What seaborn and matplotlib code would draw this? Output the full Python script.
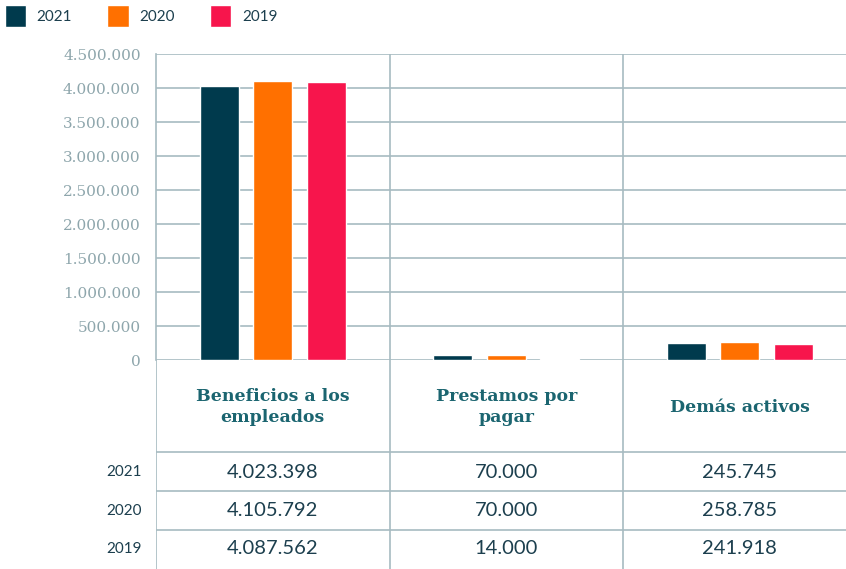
import matplotlib
matplotlib.use("Agg")
import matplotlib.pyplot as plt
import seaborn as sns
import pandas as pd
from matplotlib.patches import Patch

# data
categorias = ["Beneficios a los\nempleados", "Prestamos por\npagar", "Demás activos"]
anios = ["2021", "2020", "2019"]
valores_2021 = [4023398, 70000, 245745]
valores_2020 = [4105792, 70000, 258785]
valores_2019 = [4087562, 14000, 241918]
y_ticks = [0, 500000, 1000000, 1500000, 2000000, 2500000, 3000000, 3500000, 4000000, 4500000]

colores = {"2021": "#003a4d", "2020": "#ff7000", "2019": "#f7154c"}
linea = "#a7bbc1"
oscuro = "#1c3f4e"

series = {"2021": valores_2021, "2020": valores_2020, "2019": valores_2019}
rows = []
for a in anios:
    for c, v in zip(categorias, series[a]):
        rows.append({"categoria": c, "anio": a, "valor": v})
df = pd.DataFrame(rows)

def fmt(v):
    return f"{v:,}".replace(",", ".")

sns.set_style("white")
fig = plt.figure(figsize=(8.46, 5.69), dpi=100)
W, H = 846, 569
left = 156 / W
top_px, zero_px = 54, 360
x_max = 2.455
ax = fig.add_axes([left, 1 - zero_px / H, 1 - left, (zero_px - top_px) / H])

sns.barplot(data=df, x="categoria", y="valor", hue="anio", hue_order=anios,
            palette=colores, width=0.686, gap=0.27, saturation=1,
            legend=False, ax=ax)
ax.set_xlim(-0.5, x_max)
ax.set_ylim(0, 4500000)
ax.set_yticks(y_ticks)
ax.set_yticklabels([fmt(t) for t in y_ticks], family="DejaVu Serif",
                   fontsize=11, color="#8ea6ac")
ax.tick_params(axis="y", length=0, pad=11)
ax.set_xticks([])
ax.set_xlabel("")
ax.set_ylabel("")
for t in y_ticks:
    ax.axhline(t, color=linea, lw=1.2, zorder=0)
for s in ["top", "right", "bottom"]:
    ax.spines[s].set_visible(False)
ax.spines["left"].set_color(linea)
ax.spines["left"].set_linewidth(1.2)
for xv in [0.5, 1.5]:
    ax.axvline(xv, color=linea, lw=1.2, zorder=0)

# table below
tab = fig.add_axes([left, 0, 1 - left, (H - zero_px) / H])
tab.set_xlim(-0.5, x_max)
tab.set_ylim(H, zero_px)
tab.axis("off")
tab.axvline(-0.5, color=linea, lw=1.2)
for xv in [0.5, 1.5]:
    tab.axvline(xv, color=linea, lw=1.2)
for yv in [452, 491, 530]:
    tab.axhline(yv, color=linea, lw=1.2)

for i, c in enumerate(categorias):
    tab.text(i, 407, c, ha="center", va="center", family="DejaVu Serif",
             fontweight="bold", fontsize=12.5, color="#1b6570", linespacing=1.25)

row_y = [472, 511, 549]
for a, yv in zip(anios, row_y):
    tab.text(-0.56, yv, a, ha="right", va="center", family="Lato",
             fontsize=11, color=oscuro)
    for i, v in enumerate(series[a]):
        tab.text(i, yv, fmt(v), ha="center", va="center", family="Lato",
                 fontsize=14.5, color=oscuro)

handles = [Patch(facecolor=colores[a], label=a) for a in anios]
leg = fig.legend(handles=handles, loc="upper left", bbox_to_anchor=(0.0, 1.0),
                 ncol=3, frameon=False, handlelength=1.4, handleheight=1.9,
                 handletextpad=0.7, columnspacing=2.3, borderaxespad=0.0,
                 borderpad=0.3, prop={"family": "Lato", "size": 11})
for t in leg.get_texts():
    t.set_color(oscuro)

fig.savefig("out.png", dpi=100)
